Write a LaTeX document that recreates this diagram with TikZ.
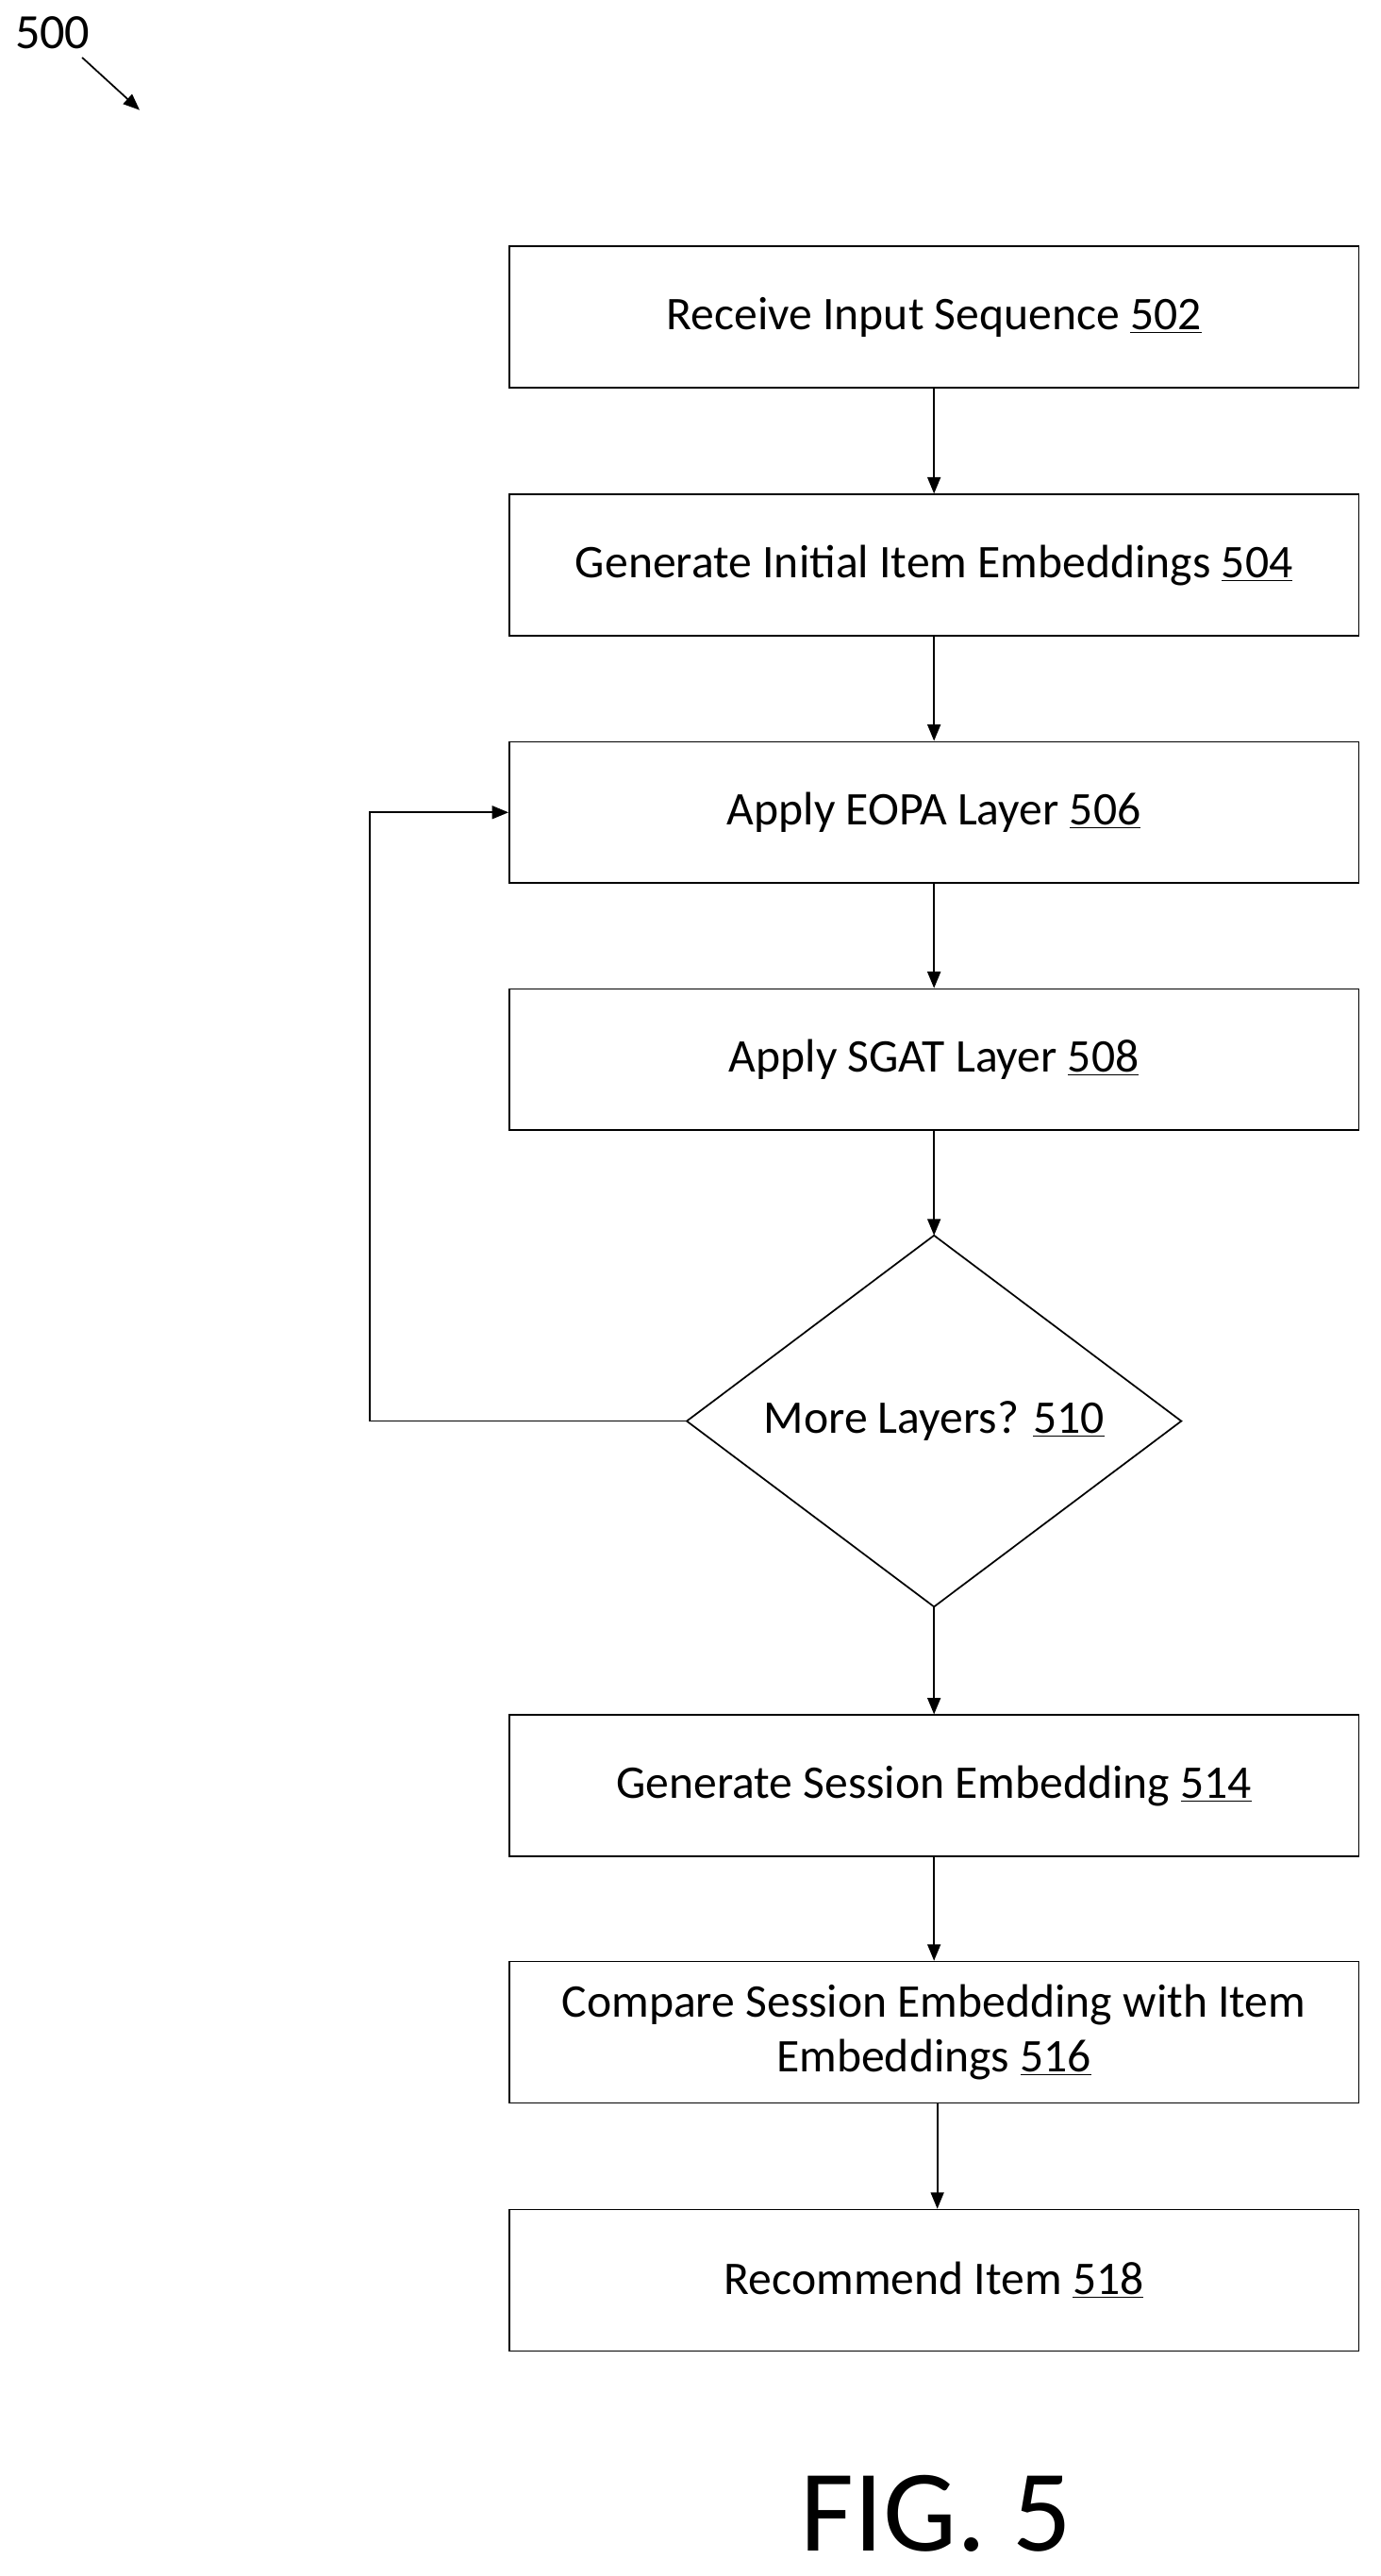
\documentclass[tikz,border=0pt]{standalone}
\usepackage{fontspec}
\setmainfont{Carlito}
\usetikzlibrary{shapes.geometric,arrows.meta}
\begin{document}
\begin{tikzpicture}[x=1pt,y=-1pt,
  box/.style={draw,line width=1pt,minimum width=517pt,minimum height=86pt,align=center,font=\fontsize{28.5}{33}\selectfont},
  arr/.style={-{Triangle[length=10pt,width=8pt]},line width=1pt}]
\useasboundingbox (0,0) rectangle (840,1568);
\node[box] (a) at (568.5,193) {Receive Input Sequence \underline{502}};
\node[box] (b) at (568.5,344) {Generate Initial Item Embeddings \underline{504}};
\node[box] (c) at (568.5,494.5) {Apply EOPA Layer \underline{506}};
\node[box] (d) at (568.5,645) {Apply SGAT Layer \underline{508}};
\draw[line width=1pt] (418,865) -- (568.5,752) -- (719,865) -- (568.5,978) -- cycle;
\node[font=\fontsize{28.5}{33}\selectfont] (e) at (568.5,865) {More Layers? \underline{510}};
\coordinate (eT) at (568.5,752); \coordinate (eB) at (568.5,978); \coordinate (eL) at (418,865);
\node[box] (f) at (568.5,1087) {Generate Session Embedding \underline{514}};
\node[box] (g) at (568.5,1237) {Compare Session Embedding with Item\\Embeddings \underline{516}};
\node[box] (h) at (568.5,1388) {Recommend Item \underline{518}};
\draw[arr] (a) -- (b);
\draw[arr] (b) -- (c);
\draw[arr] (c) -- (d);
\draw[arr] (d) -- (eT);
\draw[arr] (eB) -- (f);
\draw[arr] (f) -- (g);
\draw[arr] (g.south) ++(2,0) coordinate (gs) -- (gs |- h.north);
\draw[arr] (eL) -- (225,865) -- (225,494.5) -- (c.west);
\node[font=\fontsize{30}{36}\selectfont] (n500) at (32,20) {500};
\coordinate (p1) at (50,35); \coordinate (p2) at (85,67);
\draw[arr] (p1) -- (p2);
\node[font=\fontsize{71}{80}\selectfont] (fig) at (570,1530) {FIG. 5};
\end{tikzpicture}
\end{document}
